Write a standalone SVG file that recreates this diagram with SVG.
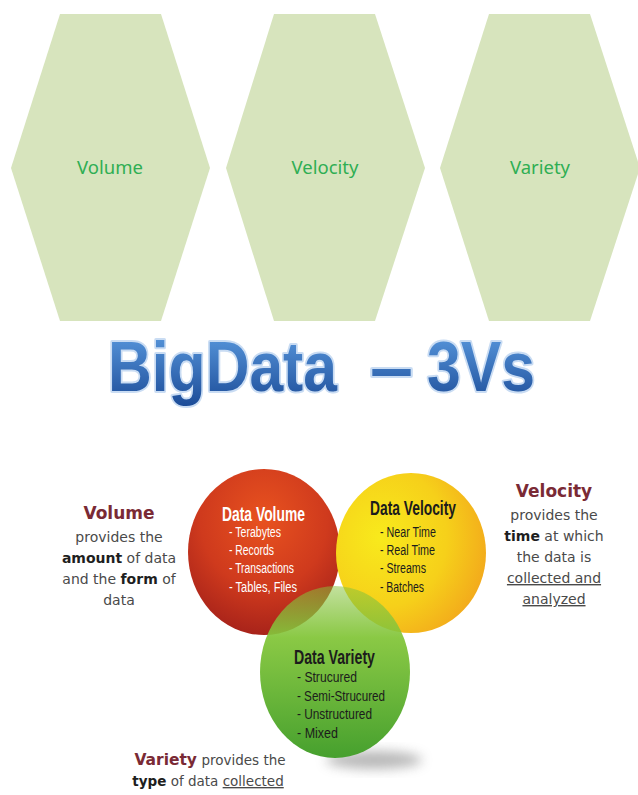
<svg xmlns="http://www.w3.org/2000/svg" width="638" height="795" viewBox="0 0 638 795">
<defs>
<style>
.hex{fill:#d7e4bd}
.hext{font-family:"Noto Sans","Open Sans",sans-serif;font-size:18.5px;fill:#2fae53;text-anchor:middle}
.title{font-family:"Liberation Sans",Arial,sans-serif;font-weight:bold;font-size:70px;fill:url(#tg);stroke:#c9dcf3;stroke-width:4;paint-order:stroke;stroke-linejoin:round}
.ch{font-family:"Liberation Sans",Arial,sans-serif;font-size:21px;font-weight:bold}
.ci{font-family:"Liberation Sans",Arial,sans-serif;font-size:14px}
.w{fill:#ffffff}
.d{fill:#1c1c1c}
.side{font-family:"DejaVu Sans","Liberation Sans",sans-serif;font-size:14px;fill:#4a4a4a;text-anchor:middle}
.sh{font-family:"DejaVu Sans","Liberation Sans",sans-serif;font-size:17px;font-weight:bold;fill:#7a2a35;text-anchor:middle}
.b{font-weight:bold;fill:#1e1e1e}
.u{text-decoration:underline}
</style>
<linearGradient id="tg" x1="0" y1="0" x2="0" y2="1">
<stop offset="0" stop-color="#5b9be0"/>
<stop offset="1" stop-color="#1c4c98"/>
</linearGradient>
<radialGradient id="rg" cx="0.5" cy="0.3" r="0.7">
<stop offset="0" stop-color="#e8521f"/>
<stop offset="0.6" stop-color="#cf3a1d"/>
<stop offset="1" stop-color="#a8231a"/>
</radialGradient>
<radialGradient id="yg" cx="0.3" cy="0.4" r="0.8">
<stop offset="0" stop-color="#f8ea1c"/>
<stop offset="0.55" stop-color="#f6d01a"/>
<stop offset="1" stop-color="#f2a11c"/>
</radialGradient>
<linearGradient id="gg" x1="0" y1="0" x2="0" y2="1">
<stop offset="0" stop-color="#86c23c" stop-opacity="0.5"/>
<stop offset="0.3" stop-color="#84c63b" stop-opacity="0.95"/>
<stop offset="1" stop-color="#46a02e"/>
</linearGradient>
<filter id="blur" x="-50%" y="-50%" width="200%" height="200%">
<feGaussianBlur stdDeviation="6"/>
</filter>
</defs>
<rect width="638" height="795" fill="#ffffff"/>

<g id="hex-volume">
<polygon class="hex" points="60,14 161,14 210,168 161,321 60,321 11,168"/>
<text class="hext" x="110" y="174">Volume</text>
</g>
<g id="hex-velocity">
<polygon class="hex" points="274,14 375,14 425,168 375,321 274,321 226,168"/>
<text class="hext" x="325" y="174">Velocity</text>
</g>
<g id="hex-variety">
<polygon class="hex" points="489,14 590,14 640,168 590,321 489,321 440,168"/>
<text class="hext" x="540" y="174">Variety</text>
</g>

<g id="title">
<text class="title" x="108" y="391" textLength="229" lengthAdjust="spacingAndGlyphs">BigData</text>
<text class="title" x="370" y="391" textLength="43" lengthAdjust="spacingAndGlyphs">–</text>
<text class="title" x="427" y="391" textLength="108" lengthAdjust="spacingAndGlyphs">3Vs</text>
</g>

<g id="shadow">
<ellipse cx="374" cy="760" rx="48" ry="9" fill="#9a9a9a" opacity="0.7" filter="url(#blur)"/>
</g>

<g id="data-volume">
<ellipse cx="264" cy="552" rx="76" ry="83" fill="url(#rg)"/>
<text class="ch w" x="222" y="521" textLength="83" lengthAdjust="spacingAndGlyphs">Data Volume</text>
<text class="ci w" x="229" y="537" textLength="52" lengthAdjust="spacingAndGlyphs">- Terabytes</text>
<text class="ci w" x="229" y="555" textLength="45" lengthAdjust="spacingAndGlyphs">- Records</text>
<text class="ci w" x="229" y="573" textLength="65" lengthAdjust="spacingAndGlyphs">- Transactions</text>
<text class="ci w" x="229" y="592" textLength="68" lengthAdjust="spacingAndGlyphs">- Tables, Files</text>
</g>

<g id="data-velocity">
<ellipse cx="411" cy="553" rx="75" ry="80" fill="url(#yg)"/>
<text class="ch d" x="370" y="515" textLength="86" lengthAdjust="spacingAndGlyphs">Data Velocity</text>
<text class="ci d" x="380" y="537" textLength="56" lengthAdjust="spacingAndGlyphs">- Near Time</text>
<text class="ci d" x="380" y="555" textLength="55" lengthAdjust="spacingAndGlyphs">- Real Time</text>
<text class="ci d" x="380" y="573" textLength="46" lengthAdjust="spacingAndGlyphs">- Streams</text>
<text class="ci d" x="380" y="592" textLength="44" lengthAdjust="spacingAndGlyphs">- Batches</text>
</g>

<g id="data-variety">
<ellipse cx="335" cy="672" rx="75" ry="86" fill="url(#gg)"/>
<text class="ch d" x="294" y="664" textLength="81" lengthAdjust="spacingAndGlyphs">Data Variety</text>
<text class="ci d" x="297" y="682" textLength="60" lengthAdjust="spacingAndGlyphs">- Strucured</text>
<text class="ci d" x="297" y="701" textLength="88" lengthAdjust="spacingAndGlyphs">- Semi-Strucured</text>
<text class="ci d" x="297" y="719" textLength="75" lengthAdjust="spacingAndGlyphs">- Unstructured</text>
<text class="ci d" x="297" y="738" textLength="41" lengthAdjust="spacingAndGlyphs">- Mixed</text>
</g>

<g id="volume-desc">
<text class="sh" x="119" y="519">Volume</text>
<text class="side" x="119" y="542">provides the</text>
<text class="side" x="119" y="563"><tspan class="b">amount</tspan> of data</text>
<text class="side" x="119" y="584">and the <tspan class="b">form</tspan> of</text>
<text class="side" x="119" y="605">data</text>
</g>

<g id="velocity-desc">
<text class="sh" x="554" y="497">Velocity</text>
<text class="side" x="554" y="520">provides the</text>
<text class="side" x="554" y="541"><tspan class="b">time</tspan> at which</text>
<text class="side" x="554" y="562">the data is</text>
<text class="side u" x="554" y="583">collected and</text>
<text class="side u" x="554" y="604">analyzed</text>
</g>

<g id="variety-desc">
<text class="side" x="210" y="765"><tspan class="sh" style="font-size:15.5px">Variety</tspan> <tspan style="font-size:13.5px">provides the</tspan></text>
<text class="side" x="208" y="786" style="font-size:13.5px"><tspan class="b">type</tspan> of data <tspan class="u">collected</tspan></text>
</g>
</svg>
